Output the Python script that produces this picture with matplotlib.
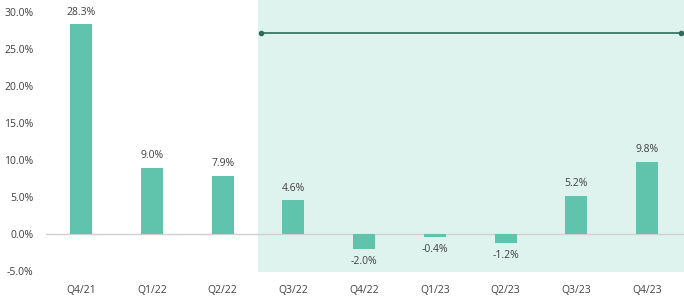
import numpy as np
import matplotlib.pyplot as plt

quarters = ['Q4/21', 'Q1/22', 'Q2/22', 'Q3/22', 'Q4/22', 'Q1/23', 'Q2/23', 'Q3/23', 'Q4/23']
growth = [28.3, 9.0, 7.9, 4.6, -2.0, -0.4, -1.2, 5.2, 9.8]
yticks = [-5, 0, 5, 10, 15, 20, 25, 30]

plt.rcParams['font.family'] = ['Open Sans', 'DejaVu Sans']
txt = '#404040'

fig = plt.figure(figsize=(6.84, 3.0), dpi=100)
ax = fig.add_axes([0.067, 0.093, 0.933, 0.907])

x = np.arange(len(quarters))
ax.set_xlim(-0.5, 8.52)
ax.set_ylim(-5.1, 31.6)

# shaded period
ax.axvspan(2.5, 8.52, color='#dff3ee', zorder=0, lw=0)

ax.bar(x, growth, width=0.31, color='#5fc4ab', zorder=2)
ax.axhline(0, color='#d0d0d0', lw=1, zorder=1)

for xi, v in zip(x, growth):
    if v >= 0:
        ax.text(xi, v + 0.9, f'{v:.1f}%', ha='center', va='bottom', fontsize=7.5, color=txt)
    else:
        ax.text(xi, v - 0.9, f'{v:.1f}%', ha='center', va='top', fontsize=7.5, color=txt)

# arrow across the shaded period
ax.plot([2.54, 8.48], [27.2, 27.2], color='#2e6b5a', lw=1.2, marker='o', markersize=3, zorder=3)

ax.set_xticks(x)
ax.set_xticklabels(quarters, fontsize=7.5, color=txt)
ax.set_yticks(yticks)
ax.set_yticklabels([f'{t:.1f}%' for t in yticks], fontsize=7.5, color=txt)
ax.tick_params(length=0, pad=9)
ax.tick_params(axis='y', pad=9)
for s in ax.spines.values():
    s.set_visible(False)

fig.savefig('out.png', dpi=100)
